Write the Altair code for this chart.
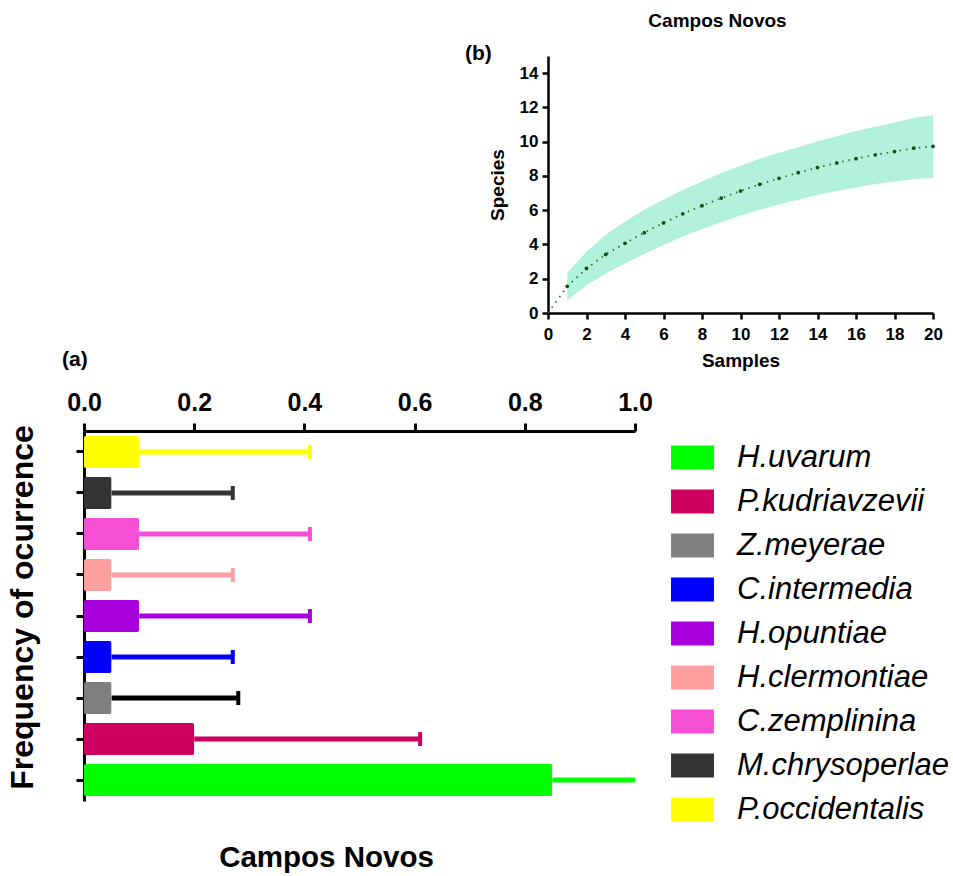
import altair as alt
import pandas as pd

FONT = "Liberation Sans, Arial, Helvetica, sans-serif"

# ---- (a) frequency of occurrence per species ----
species = ["H.uvarum", "P.kudriavzevii", "Z.meyerae", "C.intermedia", "H.opuntiae",
           "H.clermontiae", "C.zemplinina", "M.chrysoperlae", "P.occidentalis"]
frequency = [0.85, 0.20, 0.05, 0.05, 0.10, 0.05, 0.10, 0.05, 0.10]
freq_sd = [0.37, 0.41, 0.23, 0.22, 0.31, 0.22, 0.31, 0.22, 0.31]
bar_colors = ["#00FF00", "#CC0060", "#808080", "#0000FF", "#A800DC",
              "#FF9E9E", "#F54FD6", "#333333", "#FFFF00"]
err_colors = ["#00FF00", "#CC0060", "#000000", "#0000FF", "#A800DC",
              "#FF9E9E", "#F54FD6", "#333333", "#FFFF00"]
freq_ticks = [0.0, 0.2, 0.4, 0.6, 0.8, 1.0]

# ---- (b) species accumulation (rarefaction) curve ----
samples = list(range(1, 21))
species_mean = [1.56, 2.60, 3.42, 4.07, 4.69, 5.26, 5.79, 6.26, 6.71, 7.12,
                7.51, 7.86, 8.19, 8.49, 8.76, 9.01, 9.23, 9.42, 9.62, 9.72]
ci_lower = [0.74, 1.62, 2.31, 2.89, 3.44, 3.97, 4.46, 4.89, 5.30, 5.69,
            6.02, 6.34, 6.61, 6.88, 7.12, 7.33, 7.53, 7.68, 7.82, 7.88]
ci_upper = [2.35, 3.58, 4.56, 5.34, 6.02, 6.61, 7.20, 7.68, 8.17, 8.60,
            9.00, 9.35, 9.68, 10.03, 10.32, 10.62, 10.87, 11.10, 11.40, 11.54]
sample_ticks = list(range(0, 21, 2))
species_ticks = list(range(0, 15, 2))

freq_df = pd.DataFrame({"species": species, "freq": frequency, "sd": freq_sd,
                        "err_color": err_colors})
freq_df["upper"] = freq_df["freq"] + freq_df["sd"]

rare_df = pd.DataFrame({"samples": samples, "mean": species_mean,
                        "lower": ci_lower, "upper": ci_upper})
curve_df = pd.DataFrame({"samples": [0] + samples, "mean": [0] + species_mean})

# ---------- panel (a) ----------
x_freq = alt.X(
    "freq:Q",
    scale=alt.Scale(domain=[0, 1], nice=False, clamp=True),
    axis=alt.Axis(orient="top", values=freq_ticks, format=".1f", title=None,
                  labelFont=FONT, labelFontSize=25, labelFontWeight="bold",
                  labelColor="black", labelPadding=8, labelFlush=False,
                  tickSize=8, tickWidth=3, tickColor="black", domainWidth=3,
                  domainColor="black", grid=False),
)
y_species = alt.Y(
    "species:N",
    sort=list(reversed(species)),
    scale=alt.Scale(paddingInner=0.22, paddingOuter=0.12),
    axis=alt.Axis(title="Frequency of ocurrence", labels=False, tickSize=8,
                  tickWidth=3, tickColor="black", domainWidth=3, domainColor="black",
                  titleFont=FONT, titleFontSize=32, titleFontWeight="bold",
                  titleColor="black", titlePadding=35, titleY=176, grid=False),
)

err_line = alt.Chart(freq_df).mark_rule(strokeWidth=5).encode(
    x=x_freq, x2="upper:Q", y=y_species,
    color=alt.Color("err_color:N", scale=None),
)
err_cap = alt.Chart(freq_df).transform_filter("datum.upper <= 1").mark_tick(
    thickness=4, size=14, opacity=1
).encode(
    x=alt.X("upper:Q"), y=y_species,
    color=alt.Color("err_color:N", scale=None),
)
bars = alt.Chart(freq_df).mark_bar(cornerRadius=2, opacity=1).encode(
    x=x_freq, y=y_species,
    color=alt.Color(
        "species:N",
        scale=alt.Scale(domain=species, range=bar_colors),
        legend=alt.Legend(
            title=None, orient="none", legendX=593, legendY=11,
            symbolType="M-1.79,-1H1.79V1H-1.79Z", symbolSize=576,
            symbolStrokeWidth=0, symbolOpacity=1,
            labelFont=FONT, labelFontSize=31, labelFontStyle="italic",
            labelColor="black", labelOffset=29, rowPadding=12, padding=0,
            labelLimit=400,
        ),
    ),
)
tag_a = alt.Chart(pd.DataFrame({"tag": ["(a)"]})).mark_text(
    align="left", baseline="middle", font=FONT, fontSize=21, fontWeight="bold",
    color="black",
).encode(text="tag:N", x=alt.value(-22), y=alt.value(-71))

panel_a = alt.layer(err_line, err_cap, bars, tag_a).properties(
    width=551, height=370,
    title=alt.TitleParams("Campos Novos", orient="bottom", font=FONT, fontSize=29.5,
                          fontWeight="bold", color="black", dx=-33, offset=19),
)

# ---------- panel (b) ----------
axis_b = dict(labelFont=FONT, labelFontSize=17, labelFontWeight="bold",
              labelColor="black", labelFlush=False, tickSize=6, tickWidth=2.5,
              tickColor="black", domainWidth=2.5, domainColor="black",
              titleFont=FONT, titleFontSize=19, titleFontWeight="bold",
              titleColor="black", grid=False)
x_samples = alt.X("samples:Q", scale=alt.Scale(domain=[0, 20], nice=False),
                  axis=alt.Axis(values=sample_ticks, title="Samples",
                                labelPadding=7, titlePadding=9, **axis_b))
y_axis_b = alt.Axis(values=species_ticks, title="Species",
                    labelPadding=4, titlePadding=12, **axis_b)
y_rich = alt.Y("mean:Q", scale=alt.Scale(domain=[0, 15], nice=False), axis=y_axis_b)

band = alt.Chart(rare_df).mark_area(color="#B2F2DC", opacity=1).encode(
    x=x_samples,
    y=alt.Y("lower:Q", scale=alt.Scale(domain=[0, 15], nice=False), axis=y_axis_b),
    y2="upper:Q",
)
curve = alt.Chart(curve_df).mark_line(
    strokeDash=[1.5, 5], strokeWidth=1.8, color="#1E7A2E"
).encode(x=x_samples, y=y_rich)
dots = alt.Chart(rare_df).mark_point(filled=True, size=14, opacity=1,
                                     color="#0B4D12").encode(x=x_samples, y=y_rich)
tag_b = alt.Chart(pd.DataFrame({"tag": ["(b)"]})).mark_text(
    align="left", baseline="middle", font=FONT, fontSize=21, fontWeight="bold",
    color="black",
).encode(text="tag:N", x=alt.value(-83), y=alt.value(-2))

panel_b = alt.layer(band, curve, dots, tag_b).properties(
    width=385, height=257,
    title=alt.TitleParams("Campos Novos", font=FONT, fontSize=19,
                          fontWeight="bold", color="black", dx=-23, offset=12),
)

# empty block that pushes panel (b) to the right
spacer = alt.Chart(pd.DataFrame({"v": [0]})).mark_point(opacity=0).encode(
    x=alt.X("v:Q", axis=None), y=alt.Y("v:Q", axis=None)
).properties(width=381, height=10)

top_row = alt.hconcat(spacer, panel_b, spacing=0)

chart = alt.vconcat(top_row, panel_a, spacing=-21).resolve_legend(
    color="independent"
).properties(
    padding={"left": 6, "top": 12, "right": 0, "bottom": 0}
).configure(background="white", view=alt.ViewConfig(stroke=None))

chart.save("out.html", embed_options={"renderer": "svg", "actions": False})
